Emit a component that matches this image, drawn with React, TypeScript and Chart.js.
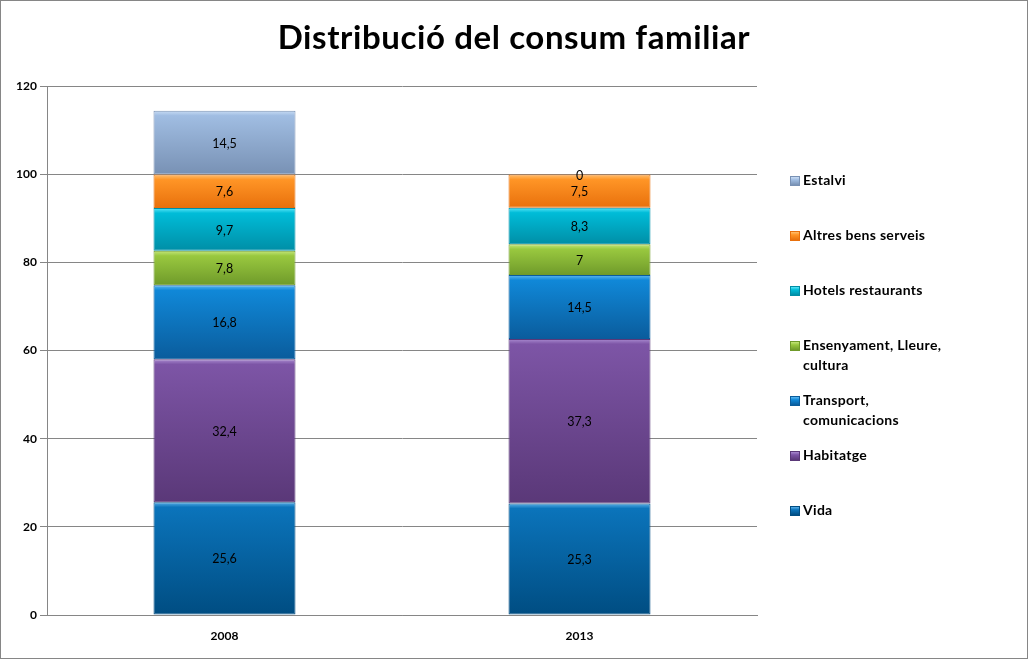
import { useEffect, useRef } from "react";
import { Chart, registerables } from "chart.js";

Chart.register(...registerables);

// --- Data ---
const years = ["2008", "2013"];
const seriesNames = [
  "Vida",
  "Habitatge",
  "Transport, comunicacions",
  "Ensenyament, Lleure, cultura",
  "Hotels restaurants",
  "Altres bens serveis",
  "Estalvi",
];
const vida = [25.6, 25.3];
const habitatge = [32.4, 37.3];
const transport = [16.8, 14.5];
const ensenyament = [7.8, 7];
const hotels = [9.7, 8.3];
const altres = [7.6, 7.5];
const estalvi = [14.5, 0];
const seriesValues = [vida, habitatge, transport, ensenyament, hotels, altres, estalvi];
const yTicks = [0, 20, 40, 60, 80, 100, 120];
const chartTitle = "Distribució del consum familiar";

// colours: [highlight, top, bottom]
const palette = [
  ["#5ab0e8", "#0b74bb", "#004d82"],
  ["#a98ad0", "#7d55a6", "#5a3878"],
  ["#5cb8f0", "#1088d8", "#0a5c9c"],
  ["#c4e67a", "#99c83f", "#6f9a2a"],
  ["#5ae6f8", "#00bcd8", "#008ea6"],
  ["#ffc070", "#ff9526", "#e8700c"],
  ["#c8dcf4", "#a0bde2", "#7891b4"],
];

const FONT = "Lato, 'DejaVu Sans', sans-serif";

const fmt = (v: number) => String(v).replace(".", ",");

const valueLabels = {
  id: "valueLabels",
  afterDatasetsDraw(chart: Chart) {
    const ctx = chart.ctx;
    ctx.save();
    ctx.font = `12.5px ${FONT}`;
    ctx.fillStyle = "#000";
    ctx.textAlign = "center";
    ctx.textBaseline = "middle";
    chart.data.datasets.forEach((ds, di) => {
      const meta = chart.getDatasetMeta(di);
      meta.data.forEach((el: any, i) => {
        const v = ds.data[i] as number;
        const y = (el.y + el.base) / 2;
        ctx.fillText(fmt(v), el.x, y + 1);
      });
    });
    ctx.restore();
  },
};

function splitLabel(name: string): string[] {
  if (name.length <= 20) return [name];
  const k = name.lastIndexOf(",");
  return [name.slice(0, k + 1), name.slice(k + 2)];
}

export default function App() {
  const canvasRef = useRef<HTMLCanvasElement | null>(null);

  useEffect(() => {
    if (!canvasRef.current) return;
    const chart = new Chart(canvasRef.current, {
      type: "bar",
      data: {
        labels: years,
        datasets: seriesNames.map((name, si) => ({
          label: name,
          data: seriesValues[si],
          borderColor: palette[si][2],
          borderWidth: 1,
          borderSkipped: false,
          backgroundColor: (c: any) => {
            const ch = c.chart;
            if (!ch.chartArea || c.type !== "data") return palette[si][1];
            const i = c.dataIndex;
            let base = 0;
            for (let k = 0; k < si; k++) base += seriesValues[k][i];
            const top = base + seriesValues[si][i];
            const ys = ch.scales.y;
            const y1 = ys.getPixelForValue(top);
            const y0 = ys.getPixelForValue(base);
            if (!isFinite(y1) || !isFinite(y0) || y0 - y1 < 1) return palette[si][1];
            const g = ch.ctx.createLinearGradient(0, y1, 0, y0);
            const h = Math.min(0.2, 5 / (y0 - y1));
            g.addColorStop(0, palette[si][0]);
            g.addColorStop(h, palette[si][1]);
            g.addColorStop(1, palette[si][2]);
            return g;
          },
          barPercentage: 0.4,
          categoryPercentage: 1,
        })),
      },
      options: {
        responsive: false,
        animation: false,
        layout: { padding: { left: 7, right: 271, top: 86, bottom: 0 } },
        plugins: {
          legend: { display: false },
          tooltip: { enabled: false },
          title: { display: false },
        },
        scales: {
          x: {
            stacked: true,
            grid: { display: false, drawTicks: false },
            border: { display: true, color: "#868686" },
            ticks: {
              padding: 14,
              color: "#000",
              font: { family: FONT, size: 12, weight: "bold" },
            },
            afterFit: (s: any) => {
              s.height = 44;
            },
          },
          y: {
            stacked: true,
            min: 0,
            max: 120,
            afterBuildTicks: (s: any) => {
              s.ticks = yTicks.map((v) => ({ value: v }));
            },
            grid: { color: "#868686", tickLength: 7 },
            border: { display: true, color: "#868686" },
            ticks: {
              padding: 3,
              color: "#000",
              font: { family: FONT, size: 12, weight: "bold" },
            },
            afterFit: (s: any) => {
              s.width = 40;
            },
          },
        },
      },
      plugins: [valueLabels],
    });
    return () => chart.destroy();
  }, []);

  const legendOrder = seriesNames.map((_, i) => i).reverse();

  return (
    <div
      style={{
        position: "fixed",
        left: 0,
        top: 0,
        width: 1028,
        height: 659,
        background: "#fff",
        fontFamily: FONT,
      }}
    >
      <canvas ref={canvasRef} width={1028} height={659} style={{ display: "block" }} />
      <div
        style={{
          position: "absolute",
          left: 0,
          top: 16,
          width: 1028,
          textAlign: "center",
          fontSize: 33,
          fontWeight: "bold",
          lineHeight: "40px",
          letterSpacing: 0.6,
          color: "#000",
        }}
      >
        {chartTitle}
      </div>
      <div style={{ position: "absolute", left: 790, top: 171 }}>
        {legendOrder.map((si, row) => (
          <div
            key={seriesNames[si]}
            style={{ position: "absolute", top: row * 55, left: 0, width: 220 }}
          >
            <div
              style={{
                position: "absolute",
                left: 0,
                top: 5,
                width: 8,
                height: 8,
                border: `1px solid ${palette[si][2]}`,
                background: `linear-gradient(${palette[si][0]}, ${palette[si][1]} 35%, ${palette[si][2]})`,
              }}
            />
            <div
              style={{
                marginLeft: 13,
                fontSize: 14,
                fontWeight: "bold",
                lineHeight: "20px",
                letterSpacing: 0.3,
                color: "#000",
                whiteSpace: "nowrap",
                marginTop: -1,
              }}
            >
              {splitLabel(seriesNames[si]).map((line) => (
                <div key={line}>{line}</div>
              ))}
            </div>
          </div>
        ))}
      </div>
      <div
        style={{
          position: "absolute",
          inset: 0,
          border: "1px solid #868686",
          pointerEvents: "none",
        }}
      />
    </div>
  );
}
